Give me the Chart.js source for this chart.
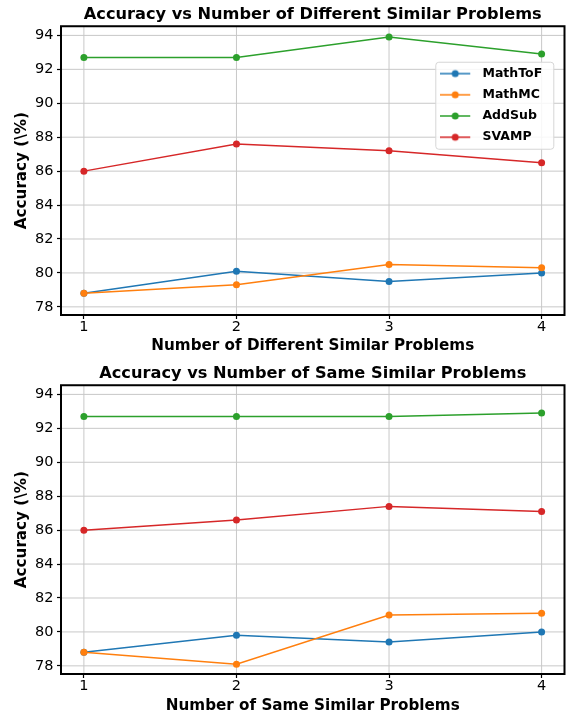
<!DOCTYPE html>
<html>
<head>
<meta charset="utf-8">
<script src="https://cdn.jsdelivr.net/npm/chart.js@4.4.1/dist/chart.umd.min.js"></script>
<style>
  body { margin: 0; background: #fff; }
  .box { position: relative; width: 568px; }
  #top { height: 360px; }
  #bottom { height: 355px; }
</style>
</head>
<body>
<div class="box" id="top"><canvas id="diffChart"></canvas></div>
<div class="box" id="bottom"><canvas id="sameChart"></canvas></div>
<script>
// DATA

const xValues = [1, 2, 3, 4];
const seriesNames = ['MathToF', 'MathMC', 'AddSub', 'SVAMP'];
const xTicks = [1, 2, 3, 4];
const yTicks = [78, 80, 82, 84, 86, 88, 90, 92, 94];

// different similar problems
const diffMathToF = [78.8, 80.1, 79.5, 80.0];
const diffMathMC = [78.8, 79.3, 80.5, 80.3];
const diffAddSub = [92.7, 92.7, 93.9, 92.9];
const diffSVAMP = [86.0, 87.6, 87.2, 86.5];

// same similar problems
const sameMathToF = [78.8, 79.8, 79.4, 80.0];
const sameMathMC = [78.8, 78.1, 81.0, 81.1];
const sameAddSub = [92.7, 92.7, 92.7, 92.9];
const sameSVAMP = [86.0, 86.6, 87.4, 87.1];

// STYLE

const seriesColors = ['#1f77b4', '#ff7f0e', '#2ca02c', '#d62728'];

Chart.defaults.font.family = "'DejaVu Sans', sans-serif";
Chart.defaults.color = '#000';

// little line + dot image for the legend
function lineMarker(color) {
	const c = document.createElement('canvas');
	c.width = 36;
	c.height = 12;
	const g = c.getContext('2d');
	g.strokeStyle = color;
	g.lineWidth = 1.5;
	g.beginPath();
	g.moveTo(0, 6);
	g.lineTo(30, 6);
	g.stroke();
	g.fillStyle = color;
	g.beginPath();
	g.arc(15, 6, 3.5, 0, Math.PI * 2);
	g.fill();
	return c;
}

// grid behind everything, legend box, black frame
const framePlugin = {
	id: 'framePlugin',
	afterLayout(chart) {
		const lg = chart.legend;
		if (!lg || !chart.options.plugins.legend.display) return;
		const a = chart.chartArea;
		lg.left = a.right - 133;
		lg.top = a.top + 32.4;
		lg.right = lg.left + lg.width;
		lg.bottom = lg.top + lg.height;
	},
	beforeDraw(chart) {
		const {ctx, chartArea: a, scales: {x, y}} = chart;
		ctx.save();
		ctx.strokeStyle = '#c8c8c8';
		ctx.lineWidth = 1;
		x.ticks.forEach(t => {
			const px = x.getPixelForValue(t.value);
			ctx.beginPath();
			ctx.moveTo(px, a.top);
			ctx.lineTo(px, a.bottom);
			ctx.stroke();
		});
		y.ticks.forEach(t => {
			const py = y.getPixelForValue(t.value);
			ctx.beginPath();
			ctx.moveTo(a.left, py);
			ctx.lineTo(a.right, py);
			ctx.stroke();
		});
		if (chart.options.plugins.legend.display) {
			const l = a.right - 128.7, r = a.right - 10.7;
			const t = a.top + 36, b = a.top + 123;
			ctx.fillStyle = 'rgba(255,255,255,0.85)';
			ctx.strokeStyle = '#d6d6d6';
			ctx.beginPath();
			ctx.roundRect(l, t, r - l, b - t, 3);
			ctx.fill();
			ctx.stroke();
		}
		ctx.restore();
	},
	afterDraw(chart) {
		const {ctx, chartArea: a} = chart;
		ctx.save();
		ctx.strokeStyle = '#000';
		ctx.lineWidth = 2;
		ctx.strokeRect(a.left, a.top, a.right - a.left, a.bottom - a.top);
		ctx.restore();
	}
};

function makeChart(canvasId, title, xTitle, seriesValues, opts) {

	const datasets = seriesValues.map((vals, i) => ({
		label: seriesNames[i],
		data: xValues.map((x, j) => ({x: x, y: vals[j]})),
		borderColor: seriesColors[i],
		backgroundColor: seriesColors[i],
		borderWidth: 1.5,
		pointRadius: 3.5,
		pointHoverRadius: 3.5,
		pointBorderWidth: 0,
		tension: 0,
		order: -i,
	}));

	return new Chart(document.getElementById(canvasId), {
		type: 'line',
		data: { datasets: datasets },
		plugins: [framePlugin],
		options: {
			responsive: true,
			maintainAspectRatio: false,
			animation: false,
			layout: { padding: { left: 0, right: 3.3, top: 0, bottom: 0 } },
			plugins: {
				title: {
					display: true,
					fullSize: false,
					text: title,
					color: '#000',
					font: { size: 16.2, weight: 'bold' },
					padding: opts.titlePad,
				},
				tooltip: { enabled: false },
				legend: {
					display: opts.legend,
					position: 'chartArea',
					align: 'start',
					labels: {
						usePointStyle: true,
						pointStyleWidth: 36,
						padding: 8.7,
						color: '#000',
						font: { size: 12.5, weight: 'bold' },
						generateLabels: ch => ch.data.datasets.map((ds, i) => ({
							text: ds.label,
							pointStyle: lineMarker(ds.borderColor),
							fillStyle: ds.borderColor,
							strokeStyle: 'rgba(0,0,0,0)',
							lineWidth: 0,
							fontColor: '#000',
							hidden: false,
							datasetIndex: i,
						})),
					},
				},
			},
			scales: {
				x: {
					type: 'linear',
					min: 0.85,
					max: 4.15,
					afterBuildTicks: s => { s.ticks = xTicks.map(v => ({value: v})); },
					afterFit: s => { s.height = opts.xAxisH; },
					grid: { drawOnChartArea: false, drawTicks: true, tickLength: 4, tickColor: '#000', tickWidth: 1.2 },
					border: { display: false },
					ticks: { color: '#000', font: { size: 14.5 }, padding: 0, maxRotation: 0, callback: v => String(v) },
					title: {
						display: true,
						text: xTitle,
						color: '#000',
						font: { size: 15.2, weight: 'bold' },
						padding: { top: 0, bottom: opts.xTitlePad },
					},
				},
				y: {
					min: 77.52,
					max: 94.54,
					afterBuildTicks: s => { s.ticks = yTicks.map(v => ({value: v})); },
					afterFit: s => { s.width = 61; },
					grid: { drawOnChartArea: false, drawTicks: true, tickLength: 4, tickColor: '#000', tickWidth: 1.2 },
					border: { display: false },
					ticks: { color: '#000', font: { size: 14.5 }, padding: 3.5, callback: v => String(v) },
					title: {
						display: true,
						text: 'Accuracy (\\%)',
						color: '#000',
						font: { size: 15.2, weight: 'bold' },
						padding: { top: 12.5, bottom: 0 },
					},
				},
			},
		},
	});
}

makeChart('diffChart', 'Accuracy vs Number of Different Similar Problems', 'Number of Different Similar Problems',
	[diffMathToF, diffMathMC, diffAddSub, diffSVAMP],
	{ legend: true, titlePad: { top: 5.4, bottom: 1.4 }, xAxisH: 45, xTitlePad: 4.5 });

makeChart('sameChart', 'Accuracy vs Number of Same Similar Problems', 'Number of Same Similar Problems',
	[sameMathToF, sameMathMC, sameAddSub, sameSVAMP],
	{ legend: false, titlePad: { top: 3.7, bottom: 2.1 }, xAxisH: 41, xTitlePad: 0 });
</script>
</body>
</html>
